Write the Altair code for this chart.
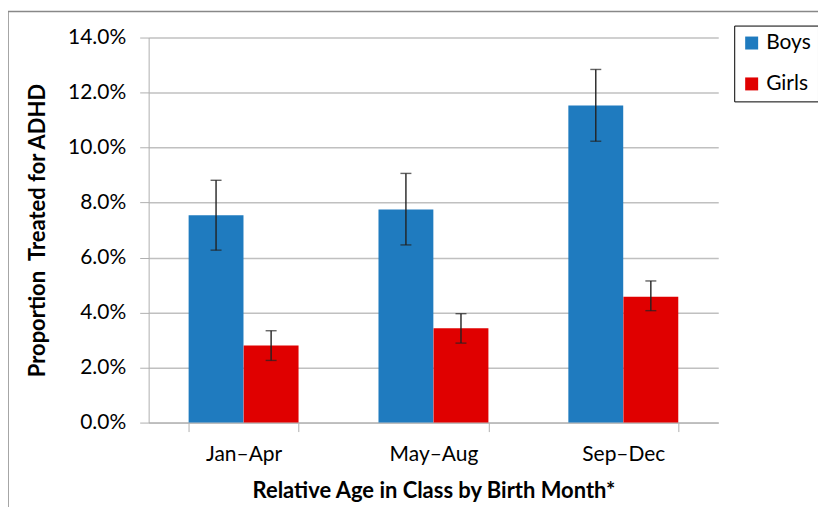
import altair as alt
import pandas as pd

categories = ["Jan\u2013Apr", "May\u2013Aug", "Sep\u2013Dec"]
groups = ["Boys", "Girls"]
boys = [7.54, 7.75, 11.53]
boys_lo = [6.27, 6.46, 10.23]
boys_hi = [8.81, 9.06, 12.84]
girls = [2.80, 3.43, 4.58]
girls_lo = [2.26, 2.89, 4.07]
girls_hi = [3.34, 3.96, 5.15]

rows = []
for i, c in enumerate(categories):
    rows.append({"cat": c, "sex": "Boys", "v": boys[i] / 100, "lo": boys_lo[i] / 100, "hi": boys_hi[i] / 100})
    rows.append({"cat": c, "sex": "Girls", "v": girls[i] / 100, "lo": girls_lo[i] / 100, "hi": girls_hi[i] / 100})
df = pd.DataFrame(rows)

FONT = "Lato"
W, H = 571, 386
yscale = alt.Scale(domain=[0, 0.14], nice=False, zero=True)

x = alt.X("cat:N", sort=categories,
          scale=alt.Scale(paddingInner=0.42, paddingOuter=0.21),
          axis=alt.Axis(title="Relative Age in Class by Birth Month*", labelAngle=0,
                        tickBand="extent", tickSize=9, labelPadding=12,
                        titleY=68, titleBaseline="middle", titleFontWeight="bold",
                        domainColor="#b0b0b0", tickColor="#b0b0b0"))
xo = alt.XOffset("sex:N", sort=groups, scale=alt.Scale(paddingInner=0, paddingOuter=0))
y = alt.Y("v:Q", scale=yscale,
          axis=alt.Axis(title="Proportion\u00a0 Treated for ADHD", format=".1%",
                        values=[0, 0.02, 0.04, 0.06, 0.08, 0.10, 0.12, 0.14],
                        tickSize=9, labelPadding=14, titleX=-111, titleY=H / 2,
                        titleBaseline="middle", titleFontWeight="bold",
                        domainColor="#b0b0b0", tickColor="#b0b0b0",
                        gridColor="#c0c0c0", gridWidth=1.5))

color = alt.Color("sex:N", sort=groups,
                  scale=alt.Scale(domain=groups, range=["#1f7bbf", "#e00000"]),
                  legend=alt.Legend(title=None, orient="none", legendX=587, legendY=-12,
                                    symbolType="square", symbolSize=169, symbolStrokeWidth=0,
                                    labelFontSize=21, labelFont=FONT, rowPadding=19,
                                    padding=7, strokeColor="black", labelOffset=4,
                                    symbolOpacity=1))

one = pd.DataFrame({"a": [0]})
frame_top = alt.Chart(one).mark_rule(color="#888888", strokeWidth=1.5, clip=False).encode(
    x=alt.value(-141), x2=alt.value(W + 200), y=alt.value(-26))
frame_left = alt.Chart(one).mark_rule(color="#888888", strokeWidth=1.5, clip=False).encode(
    x=alt.value(-141), y=alt.value(-26), y2=alt.value(H + 200))

base = alt.Chart(df)
bars = base.mark_bar(size=55).encode(x=x, xOffset=xo, y=y, color=color)
err = base.mark_errorbar(ticks=alt.MarkConfig(size=11), color="#222222", thickness=1.4).encode(
    x=alt.X("cat:N", sort=categories), xOffset=xo,
    y=alt.Y("lo:Q", scale=yscale, title="Proportion\u00a0 Treated for ADHD"), y2="hi:Q")

chart = alt.layer(frame_top, frame_left, bars, err).properties(
    width=W, height=H,
    autosize=alt.AutoSizeParams(type="none"),
    padding={"left": 141, "top": 29, "right": 100, "bottom": 84},
).configure_view(stroke=None).configure_axis(
    labelFont=FONT, titleFont=FONT, labelFontSize=21, titleFontSize=22,
    labelColor="black", titleColor="black"
).configure_axisX(grid=False)

chart.save("out.html", embed_options={"renderer": "svg", "actions": False})
